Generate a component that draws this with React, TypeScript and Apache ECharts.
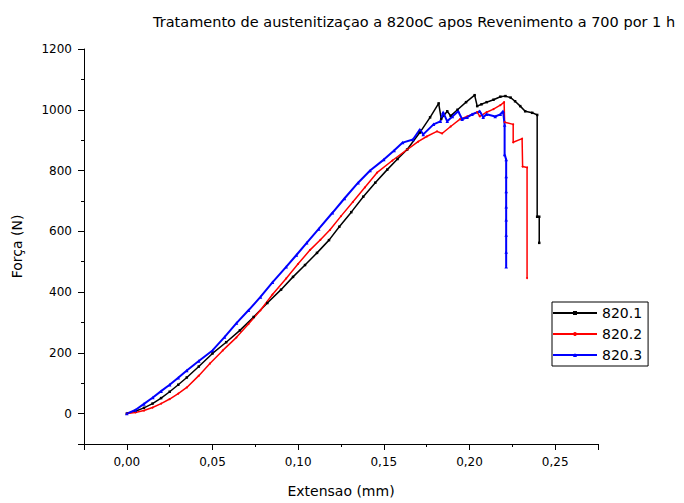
import React, { useEffect, useRef } from 'react';
import * as echarts from 'echarts';

// 820.1 (black)
const ext1 = [0, 0.005, 0.01, 0.015, 0.02, 0.025, 0.03, 0.035, 0.042, 0.05, 0.058, 0.066, 0.074, 0.082, 0.09, 0.097, 0.104, 0.111, 0.118, 0.124, 0.131, 0.138, 0.145, 0.152, 0.158, 0.1636, 0.171, 0.177, 0.182, 0.1835, 0.187, 0.189, 0.193, 0.198, 0.203, 0.2045, 0.207, 0.21, 0.214, 0.218, 0.221, 0.224, 0.2266, 0.2296, 0.2325, 0.2366, 0.2395, 0.2395, 0.2407, 0.2407];
const force1 = [0, 8, 19, 33, 51, 72, 95, 119, 155, 198, 235, 274, 318, 364, 408, 450, 489, 529, 571, 615, 663, 714, 760, 803, 838, 869, 925, 975, 1021, 970, 995, 980, 1000, 1025, 1048, 1012, 1018, 1025, 1033, 1043, 1045, 1040, 1028, 1012, 995, 990, 983, 648, 648, 562];

// 820.2 (red)
const ext2 = [0, 0.005, 0.01, 0.015, 0.02, 0.025, 0.03, 0.035, 0.042, 0.0485, 0.056, 0.064, 0.071, 0.078, 0.085, 0.093, 0.1, 0.107, 0.113, 0.1186, 0.125, 0.132, 0.139, 0.146, 0.155, 0.1636, 0.17, 0.175, 0.181, 0.184, 0.189, 0.1945, 0.1986, 0.2045, 0.206, 0.21, 0.214, 0.218, 0.2202, 0.2205, 0.2255, 0.2255, 0.2307, 0.231, 0.2336, 0.2336];
const force2 = [0, 4, 10, 20, 33, 48, 66, 86, 125, 165, 208, 251, 295, 340, 392, 445, 493, 539, 572, 605, 650, 697, 745, 793, 833, 869, 895, 912, 929, 922, 945, 969, 978, 992, 978, 992, 1002, 1015, 1025, 959, 952, 893, 905, 813, 810, 446];

// 820.3 (blue)
const ext3 = [0, 0.005, 0.01, 0.0152, 0.02, 0.025, 0.03, 0.035, 0.042, 0.05, 0.057, 0.064, 0.071, 0.078, 0.085, 0.093, 0.099, 0.105, 0.112, 0.12, 0.127, 0.135, 0.142, 0.15, 0.156, 0.161, 0.167, 0.171, 0.173, 0.179, 0.183, 0.1846, 0.187, 0.19, 0.1934, 0.1957, 0.1986, 0.2015, 0.206, 0.208, 0.21, 0.215, 0.218, 0.2196, 0.2205, 0.2205, 0.2214, 0.2214, 0.2214, 0.2214, 0.2214, 0.2214, 0.2214, 0.2214];
const force3 = [0, 12, 32, 53, 74, 95, 118, 142, 173, 208, 252, 298, 340, 384, 432, 483, 522, 562, 608, 661, 708, 760, 800, 836, 866, 892, 902, 935, 919, 952, 962, 992, 962, 978, 995, 969, 975, 985, 995, 975, 985, 978, 985, 995, 950, 853, 836, 780, 731, 681, 638, 588, 532, 483];

const seriesNames = ['820.1', '820.2', '820.3'];
const seriesColors = ['#000000', '#ff0000', '#0000ff'];

const zip = (xs: number[], ys: number[]) => xs.map((x, i) => [x, ys[i]]);

export default function App() {
  const ref = useRef<HTMLDivElement>(null);
  useEffect(() => {
    const chart = echarts.init(ref.current!, null, { renderer: 'svg' });
    const font = 'DejaVu Sans';
    const datasets = [zip(ext1, force1), zip(ext2, force2), zip(ext3, force3)];
    const symbols = ['rect', 'circle', 'triangle'];
    const symbolSizes = [2.5, 2, 3.5];
    const widths = [1.5, 1.5, 2];
    chart.setOption({
      animation: false,
      title: {
        text: 'Tratamento de austenitizaçao a 820oC apos Revenimento a 700 por 1 h',
        left: 148,
        top: 9,
        textStyle: { fontFamily: font, fontSize: 14.5, fontWeight: 'normal', color: '#000' },
      },
      grid: { left: 84, right: 86, top: 49, bottom: 59, containLabel: false },
      legend: {
        orient: 'vertical',
        left: 552,
        top: 302,
        borderColor: '#000',
        borderWidth: 1,
        borderRadius: 0,
        padding: [4, 6, 4, 0],
        itemGap: 7,
        itemWidth: 44,
        itemHeight: 5,
        data: seriesNames,
        textStyle: { fontFamily: font, fontSize: 14, color: '#000' },
      },
      xAxis: {
        type: 'value',
        min: -0.025,
        max: 0.275,
        minInterval: 0.05,
        maxInterval: 0.05,
        name: 'Extensao (mm)',
        nameLocation: 'middle',
        nameGap: 40,
        nameTextStyle: { fontFamily: font, fontSize: 14, color: '#000' },
        axisLine: { onZero: false, lineStyle: { color: '#000', width: 1 } },
        axisTick: { length: 6, lineStyle: { color: '#000' } },
        minorTick: { show: true, splitNumber: 2, length: 3, lineStyle: { color: '#000' } },
        splitLine: { show: false },
        axisLabel: {
          margin: 12,
          fontFamily: font,
          fontSize: 12,
          color: '#000',
          formatter: (v: number) => (v < -1e-9 || v > 0.25 + 1e-9 ? '' : v.toFixed(2).replace('.', ',')),
        },
      },
      yAxis: {
        type: 'value',
        min: -100,
        max: 1200,
        minInterval: 200,
        maxInterval: 200,
        name: 'Força (N)',
        nameLocation: 'middle',
        nameGap: 60,
        nameTextStyle: { fontFamily: font, fontSize: 14, color: '#000' },
        axisLine: { show: true, onZero: false, lineStyle: { color: '#000', width: 1 } },
        axisTick: { show: true, length: 6, lineStyle: { color: '#000' } },
        minorTick: { show: true, splitNumber: 2, length: 3, lineStyle: { color: '#000' } },
        splitLine: { show: false },
        axisLabel: {
          margin: 12,
          fontFamily: font,
          fontSize: 12,
          color: '#000',
          formatter: (v: number) => (v < 0 ? '' : String(v)),
        },
      },
      series: seriesNames.map((name, i) => ({
        name,
        type: 'line',
        data: datasets[i],
        showSymbol: true,
        symbol: symbols[i],
        symbolSize: symbolSizes[i],
        color: seriesColors[i],
        itemStyle: { color: seriesColors[i] },
        lineStyle: { color: seriesColors[i], width: widths[i] },
      })),
    });
    return () => chart.dispose();
  }, []);
  return <div ref={ref} style={{ position: 'absolute', left: 0, top: 0, width: 684, height: 503 }} />;
}
